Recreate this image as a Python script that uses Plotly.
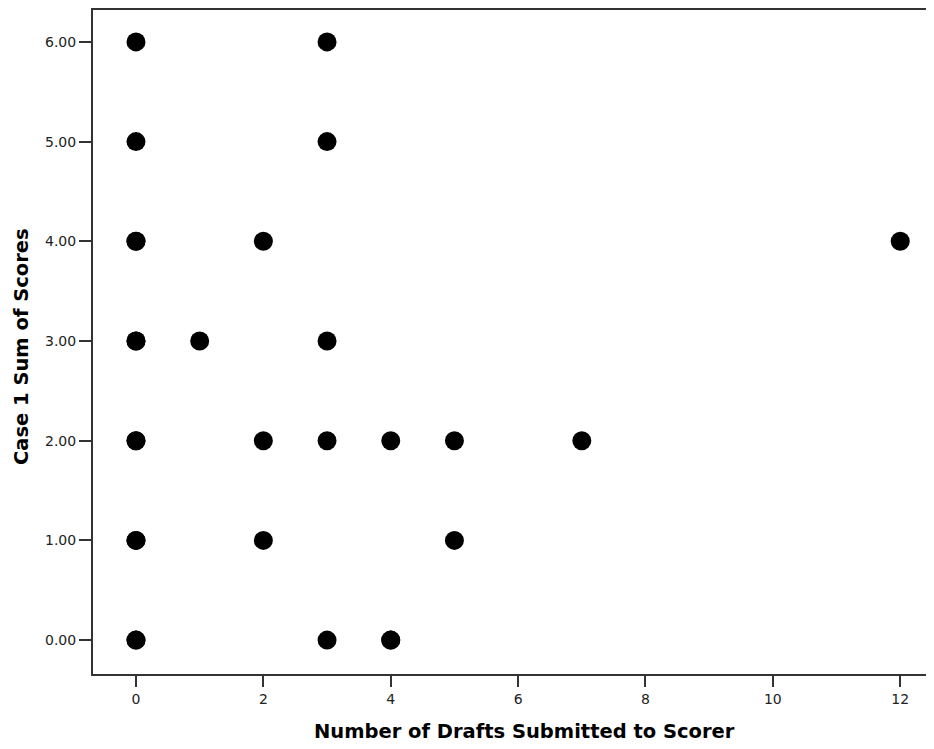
import plotly.graph_objects as go

# Number of drafts submitted to scorer (x) and Case 1 sum of scores (y)
drafts = [0, 0, 0, 0, 0, 0, 0, 0, 0, 0, 0, 0,
          1,
          2, 2, 2,
          3, 3, 3, 3, 3,
          4, 4, 4,
          5, 5,
          7,
          12]
scores = [6, 5, 4, 4, 3, 3, 2, 2, 1, 1, 0, 0,
          3,
          4, 2, 1,
          6, 5, 3, 2, 0,
          2, 0, 0,
          2, 1,
          2,
          4]

x_ticks = [0, 2, 4, 6, 8, 10, 12]
y_ticks = [0, 1, 2, 3, 4, 5, 6]
y_tick_labels = ["0.00", "1.00", "2.00", "3.00", "4.00", "5.00", "6.00"]
x_title = "Number of Drafts Submitted to Scorer"
y_title = "Case 1 Sum of Scores"

fig = go.Figure()
fig.add_trace(go.Scatter(
    x=drafts, y=scores, mode="markers",
    marker=dict(size=19, color="black", line=dict(width=0)),
    showlegend=False,
))

axis_font = dict(family="DejaVu Sans, sans-serif", size=14, color="#222222")
title_font = dict(family="DejaVu Sans, sans-serif", size=19.5, color="black")

fig.update_layout(
    width=926, height=741,
    margin=dict(l=85, r=0, t=0, b=75),
    paper_bgcolor="white", plot_bgcolor="white",
    xaxis=dict(
        range=[-0.675, 12.53],
        tickvals=x_ticks,
        ticks="outside", ticklen=11, tickwidth=2, tickcolor="#333333",
        showline=True, linecolor="#333333", linewidth=2, mirror=True,
        showgrid=False, zeroline=False,
        tickfont=axis_font,
    ),
    yaxis=dict(
        range=[-0.34, 6.32],
        tickvals=y_ticks, ticktext=y_tick_labels,
        ticks="outside", ticklen=12, tickwidth=2, tickcolor="#333333",
        showline=True, linecolor="#333333", linewidth=2, mirror=False,
        showgrid=False, zeroline=False,
        tickfont=axis_font,
    ),
    annotations=[
        dict(text="<b>" + x_title + "</b>", xref="paper", yref="paper",
             x=0.5125, y=-0.087, xanchor="center", yanchor="middle",
             showarrow=False, font=title_font),
        dict(text="<b>" + y_title + "</b>", xref="paper", yref="paper",
             x=-0.0844, y=0.4925, xanchor="center", yanchor="middle",
             textangle=-90, showarrow=False, font=title_font),
    ],
)

fig.write_html("out.html")
